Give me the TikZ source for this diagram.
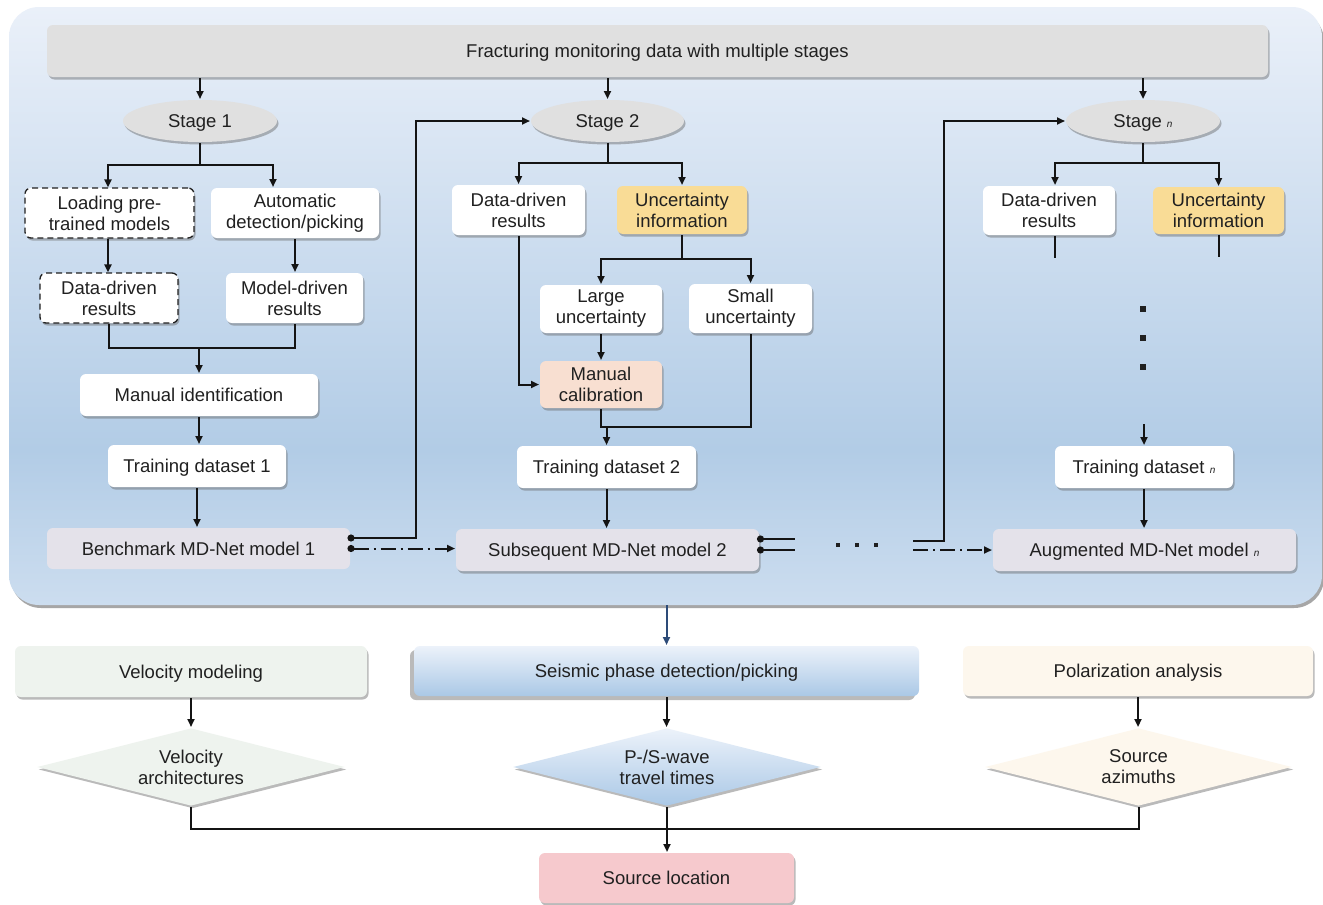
\documentclass[tikz,border=0pt]{standalone}
\usepackage{fontspec}
\setmainfont{Liberation Sans}
\usetikzlibrary{shapes.geometric,arrows.meta,shadows,calc}
\definecolor{txt}{RGB}{32,32,32}
\definecolor{bannerg}{RGB}{224,224,224}
\definecolor{lav}{RGB}{228,226,234}
\definecolor{gold}{RGB}{249,220,150}
\definecolor{peach}{RGB}{248,223,209}
\definecolor{vgreen}{RGB}{238,243,238}
\definecolor{cream}{RGB}{253,247,237}
\definecolor{pinkb}{RGB}{246,201,205}
\definecolor{ptop}{RGB}{234,240,249}
\definecolor{pmid}{RGB}{178,204,230}
\definecolor{pbot}{RGB}{204,221,239}
\definecolor{btop}{RGB}{236,242,250}
\definecolor{bbot}{RGB}{170,200,230}
\definecolor{arrowblue}{RGB}{45,75,120}
\definecolor{lineblk}{RGB}{20,20,20}
\pgfdeclareverticalshading{panelshade}{100bp}{color(0bp)=(pbot); color(25bp)=(pbot); color(38bp)=(pmid); color(75bp)=(ptop); color(100bp)=(ptop)}
\newcommand{\smn}{{\fontsize{10}{10}\selectfont\itshape n}}
\tikzset{
  sz/.style 2 args={minimum width=#1pt, minimum height=#2pt},
  bx/.style={inner sep=0pt, align=center, text=txt, rounded corners=6pt},
  one/.style={text depth=0pt},
  shd/.style={drop shadow={shadow xshift=1.5pt, shadow yshift=-2.5pt, opacity=0.45, fill=black!60}},
  wbox/.style={bx, fill=white, shd},
  dbox/.style={bx, fill=white, draw=txt, line width=1.3pt, dash pattern=on 6pt off 4pt, shd},
  gbox/.style={bx, fill=bannerg, shd},
  lbox/.style={bx, fill=lav},
  ybox/.style={bx, fill=gold, shd},
  pbox/.style={bx, fill=peach, shd},
  stg/.style={ellipse, inner sep=0pt, fill=bannerg, text=txt, shd, one},
  dia/.style={diamond, inner sep=0pt, shd},
  dtext/.style={align=center, text=txt, inner sep=0pt},
  arr/.style={-{Triangle[length=8pt,width=7pt]}},
  darr/.style={{Circle[length=7pt]}-{Triangle[length=8pt,width=7pt]}},
  dstart/.style={{Circle[length=7pt]}-},
  dashdot/.style={dash pattern=on 15pt off 5pt on 2pt off 5pt},
}
\begin{document}
\begin{tikzpicture}[x=1pt,y=-1pt,font=\fontsize{18.5}{21}\selectfont,line width=2pt,draw=lineblk]
\useasboundingbox (0,0) rectangle (1323,905);
\fill[white] (0,0) rectangle (1323,905);
% panel
\fill[black!35, rounded corners=30pt] (11,11) rectangle (1324,608);
\shade[shading=panelshade, rounded corners=30pt] (9,7) rectangle (1322,605);

% top banner
\node[gbox, one, sz={1221}{52}] (banner) at (657.5,51) {Fracturing monitoring data with multiple stages};

% stages
\node[stg, sz={154}{42}] (st1) at (200,121) {Stage 1};
\node[stg, sz={153}{42}] (st2) at (607.5,121) {Stage 2};
\node[stg, sz={154}{42}] (stn) at (1143,121) {Stage \smn};

% stage 1 column
\node[dbox, sz={169}{50}] (load) at (109.5,213) {Loading pre-\\trained models};
\node[wbox, sz={168}{50}] (auto) at (295,213) {Automatic\\detection/picking};
\node[dbox, sz={138}{50}] (dd1) at (109,298) {Data-driven\\results};
\node[wbox, sz={137}{50}] (md1) at (294.5,298) {Model-driven\\results};
\node[wbox, one, sz={238}{42}] (manid) at (199,395) {Manual identification};
\node[wbox, one, sz={178}{42}] (tr1) at (197,466) {Training dataset 1};
\node[lbox, one, sz={303}{41}] (bench) at (198.5,548.5) {Benchmark MD-Net model 1};

% stage 2 column
\node[wbox, sz={133}{50}] (dd2) at (518.5,210) {Data-driven\\results};
\node[ybox, sz={130}{48}] (unc2) at (682,210) {Uncertainty\\information};
\node[wbox, sz={122}{48}] (large) at (601,309) {Large\\uncertainty};
\node[wbox, sz={123}{49}] (small) at (750.5,308.5) {Small\\uncertainty};
\node[pbox, sz={122}{47}] (calib) at (601,384.5) {Manual\\calibration};
\node[wbox, one, sz={179}{42}] (tr2) at (606.5,467) {Training dataset 2};
\node[lbox, one, shd, sz={303}{42}] (subs) at (607.5,550) {Subsequent MD-Net model 2};

% stage n column
\node[wbox, sz={132}{49}] (ddn) at (1049,210.5) {Data-driven\\results};
\node[ybox, sz={131}{47}] (uncn) at (1218.5,210.5) {Uncertainty\\information};
\node[wbox, one, sz={178}{42}] (trn) at (1144,467) {Training dataset \smn};
\node[lbox, one, shd, sz={303}{42}] (aug) at (1144.5,550) {Augmented MD-Net model \smn};

% bottom row
\node[bx, one, fill=vgreen, shd, sz={352}{51}] (vel) at (191,671.5) {Velocity modeling};
\node[bx, one, top color=btop, bottom color=bbot, drop shadow={shadow xshift=-4pt, shadow yshift=-4pt, opacity=0.45, fill=black!60}, sz={505}{50}] (seis) at (666.5,671) {Seismic phase detection/picking};
\node[bx, one, fill=cream, shd, sz={350}{50}] (pol) at (1138,671) {Polarization analysis};

\node[dia, fill=vgreen, sz={308}{78}] (d1) at (191,767) {};
\node[dtext] (d1t) at (d1) {Velocity\\architectures};
\node[dia, top color=btop, bottom color=bbot, sz={308}{78}] (d2) at (667,767) {};
\node[dtext] (d2t) at (d2) {P-/S-wave\\travel times};
\node[dia, fill=cream, sz={307}{78}] (d3) at (1138.5,767) {};
\node[dtext] (d3t) at (d3) {Source\\azimuths};

\node[bx, one, fill=pinkb, shd, sz={255}{50}] (src) at (666.5,878) {Source location};

% ---------- connectors ----------
\draw[arr] (st1.north |- banner.south) -- (st1.north);
\draw[arr] (st2.north |- banner.south) -- (st2.north);
\draw[arr] (stn.north |- banner.south) -- (stn.north);

% stage 1
\coordinate (b1) at (200,165);
\draw (st1.south) -- (b1);
\draw[arr] (b1) -| ([xshift=-1.5pt]load.north);
\draw[arr] (b1) -| ([xshift=-22pt]auto.north);
\draw[arr] ([xshift=-1.5pt]load.south) -- ([xshift=-1.5pt]load.south |- dd1.north);
\draw[arr] (auto.south) -- (auto.south |- md1.north);
\coordinate (j1) at (199,348);
\draw (dd1.south) |- (j1) -| (md1.south);
\draw[arr] (j1) -- (manid.north);
\draw[arr] (manid.south) -- (manid.south |- tr1.north);
\draw[arr] (tr1.south) -- (tr1.south |- bench.north);

% benchmark outputs
\coordinate (c1) at (416,121);
\draw[darr] ([xshift=-3.5pt,yshift=10.5pt]bench.east) -| (c1) -- (st2.west);
\draw[darr, dashdot] ([xshift=-3.5pt]bench.east) -- (bench.east -| subs.west);

% stage 2
\coordinate (b2) at (607.5,163);
\draw (st2.south) -- (b2);
\draw[arr] (b2) -| (dd2.north);
\draw[arr] (b2) -| (unc2.north);
\coordinate (b3) at (682,259);
\draw (unc2.south) -- (b3);
\draw[arr] (b3) -| (large.north);
\draw[arr] (b3) -| (small.north);
\draw[arr] (large.south) -- (calib.north);
\draw[arr] (dd2.south) |- (calib.west);
\coordinate (j2) at (606.5,427);
\draw (calib.south) |- (j2) -| (small.south);
\draw[arr] (j2) -- (tr2.north);
\draw[arr] (tr2.south) -- (tr2.south |- subs.north);

% subsequent outputs
\coordinate (e1) at (795,539);
\coordinate (e2) at (795,550);
\draw[dstart] ([xshift=-3pt,yshift=11pt]subs.east) -- (e1);
\draw[dstart] ([xshift=-3pt]subs.east) -- (e2);
\foreach \xx in {838,857,876} \fill[txt] (\xx-2.2,543) rectangle (\xx+2.2,547.4);

% to stage n
\coordinate (s1) at (913,541);
\coordinate (c2) at (944,121);
\draw[arr] (s1) -| (c2) -- (stn.west);
\coordinate (s2) at (913,550);
\draw[arr, dashdot] (s2) -- (s2 -| aug.west);

% stage n
\coordinate (b4) at (1143,163);
\draw (stn.south) -- (b4);
\draw[arr] (b4) -| ([xshift=6pt]ddn.north);
\draw[arr] (b4) -| (uncn.north);
\coordinate (f1) at (1054.5,258);
\coordinate (f2) at (1218.5,257);
\draw ([xshift=5.5pt]ddn.south) -- (f1);
\draw (uncn.south) -- (f2);
\foreach \yy in {309,338,367} \fill[txt] (1140,\yy-3) rectangle (1146,\yy+3);
\coordinate (t1) at (1144,424);
\draw[arr] (t1) -- (trn.north);
\draw[arr] (trn.south) -- (trn.south |- aug.north);

% panel to bottom
\coordinate (pb) at (666.5,605);
\draw[arr, arrowblue] (pb) -- (seis.north);
\draw[arr] (vel.south) -- (vel.south |- d1.north);
\draw[arr] (seis.south) -- (seis.south |- d2.north);
\draw[arr] (pol.south) -- (pol.south |- d3.north);
\coordinate (j3) at (666.5,829);
\draw (d1.south) |- (j3) -| (d3.south);
\draw[arr] (d2.south) -- (d2.south |- src.north);
\end{tikzpicture}
\end{document}
